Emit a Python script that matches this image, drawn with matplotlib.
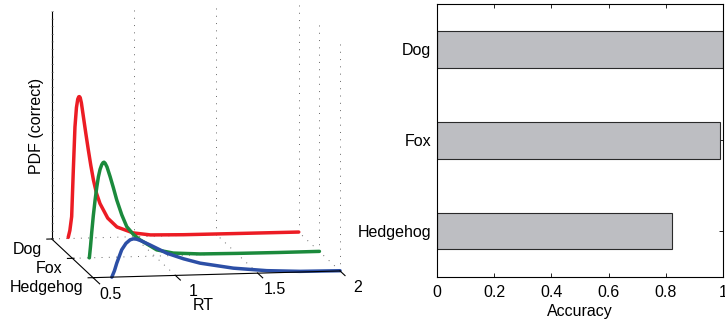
import matplotlib
matplotlib.use('Agg')
import matplotlib.pyplot as plt
import numpy as np

plt.rcParams['font.family'] = ['Liberation Sans', 'DejaVu Sans']

# categories (Dog at the back of the 3D plot, Hedgehog at the front)
animals = ['Dog', 'Fox', 'Hedgehog']
animal_pos = [3, 2, 1]
colors = ['#ec1c24', '#1b8a3c', '#2c4fa6']

# RT densities of correct responses
dog_rt = [0.60, 0.61, 0.621, 0.631, 0.641, 0.65, 0.658, 0.664, 0.668, 0.673,
          0.68, 0.692, 0.707, 0.722, 0.737, 0.753, 0.772, 0.793, 0.84, 0.896,
          0.994, 1.1, 1.3, 1.6, 2.0]
dog_pdf = [0.05, 0.35, 0.96, 3.0, 4.9, 5.75, 6.12, 6.22, 6.23, 6.18,
           5.95, 5.35, 4.6, 3.88, 3.2, 2.55, 1.95, 1.5, 0.85, 0.45,
           0.17, 0.06, 0.03, 0.02, 0.01]

fox_rt = [0.603, 0.61, 0.617, 0.627, 0.638, 0.648, 0.658, 0.668, 0.678, 0.686,
          0.692, 0.699, 0.71, 0.729, 0.749, 0.769, 0.8, 0.83, 0.87, 0.911,
          1.012, 1.113, 1.275, 1.5, 1.75, 2.0]
fox_pdf = [0.0, 0.5, 1.09, 1.85, 2.55, 3.1, 3.56, 3.88, 4.08, 4.17,
           4.19, 4.14, 3.98, 3.55, 3.05, 2.52, 1.85, 1.33, 0.98, 0.73,
           0.27, 0.11, 0.04, 0.02, 0.01, 0.01]

hedgehog_rt = [0.614, 0.63, 0.644, 0.66, 0.674, 0.7, 0.725, 0.745, 0.765,
               0.79, 0.846, 0.947, 1.05, 1.15, 1.352, 1.555, 1.757, 2.0]
hedgehog_pdf = [0.0, 0.28, 0.61, 0.92, 1.19, 1.47, 1.62, 1.66, 1.64,
                1.57, 1.37, 0.99, 0.72, 0.51, 0.25, 0.10, 0.03, 0.01]

rt_ticks = [0.5, 1, 1.5, 2]
rt_ticklabels = ['0.5', '1', '1.5', '2']

# accuracy per animal
accuracy = [1.0, 0.99, 0.82]
acc_ticks = [0, 0.2, 0.4, 0.6, 0.8, 1]
acc_ticklabels = ['0', '0.2', '0.4', '0.6', '0.8', '1']

FW, FH = 725, 324
fig = plt.figure(figsize=(FW / 100, FH / 100), dpi=100)

# ---- left: 3D plot of the densities ----
W = 326.2
ax = fig.add_axes([28.4 / FW, 15.2 / FH, W / FW, W / FH], projection='3d',
                  proj_type='ortho', computed_zorder=False)
ax.set_box_aspect((250.55, 246.14, 230.25), zoom=1.25)
ax.view_init(elev=9.17, azim=-99.66)
ax.set_axis_off()
ax.patch.set_alpha(0)

xmin, xmax = 0.5, 2
ymin, ymax = 1, 3
zmin, zmax = 0, 10

# dotted grid
gkw = dict(color='#666666', lw=0.7, ls=(0, (1, 6.5)), zorder=1)
for x in rt_ticks[1:]:
    ax.plot([x, x], [ymax, ymax], [zmin, zmax], **gkw)
    ax.plot([x, x], [ymin, ymax], [zmin, zmin], **gkw)
for y in animal_pos[1:]:
    ax.plot([xmax, xmax], [y, y], [zmin, zmax], **gkw)
for y in animal_pos[:2]:
    ax.plot([xmin, xmax], [y, y], [zmin, zmin], **gkw)

# curves
all_rt = [dog_rt, fox_rt, hedgehog_rt]
all_pdf = [dog_pdf, fox_pdf, hedgehog_pdf]
for i in range(3):
    ax.plot(all_rt[i], [animal_pos[i]] * len(all_rt[i]), all_pdf[i],
            color=colors[i], lw=2.5, solid_capstyle='round',
            solid_joinstyle='round', zorder=3 + i)

# axis lines
akw = dict(color='black', lw=0.8, zorder=10)
ax.plot([xmin, xmin], [ymax, ymax], [zmin, zmax], **akw)
ax.plot([xmin, xmin], [ymax, 0.68], [zmin, zmin], **akw)
ax.plot([xmin, xmax], [ymin, ymin], [zmin, zmin], **akw)
for x in rt_ticks[1:]:
    ax.plot([x, x], [ymin, 0.76], [zmin, zmin], **akw)
for y in animal_pos:
    ax.plot([0.47, 0.51], [y, y], [zmin, zmin], **akw)
for z in np.linspace(zmin, zmax, 31):
    ax.plot([xmin, xmin + 0.012], [ymax, ymax], [z, z], color='#777777', lw=0.4,
            zorder=10)

# labels
for x, lab in zip(rt_ticks, rt_ticklabels):
    ax.text(x, 0.15, 0, lab, zdir=None, ha='center', va='center', fontsize=11.5)
for y, lab in zip(animal_pos, animals):
    ax.text(xmin - 0.123, y - 0.5, 0, lab, zdir=None, ha='right', va='center',
            fontsize=11.5)
ax.text(0.975, -0.55, 0, 'RT', zdir=None, ha='center', va='center', fontsize=11.5)
ax.text(xmin - 0.091, ymax, 5.0, 'PDF (correct)', zdir='z', ha='center',
        va='center', fontsize=11.5)

ax.set_xlim(xmin, xmax)
ax.set_ylim(ymin, ymax)
ax.set_zlim(zmin, zmax)

# ---- right: accuracy bars ----
ax2 = fig.add_axes([436.7 / FW, 47.3 / FH, 286.6 / FW, 272.7 / FH])
ax2.barh(animal_pos, accuracy, height=0.4, color='#bdbec2', edgecolor='#2a2a2a',
         linewidth=0.8, zorder=2)
ax2.set_xlim(0, 1)
ax2.set_ylim(0.5, 3.5)
ax2.set_yticks(animal_pos)
ax2.set_yticklabels(animals)
ax2.set_xticks(acc_ticks)
ax2.set_xticklabels(acc_ticklabels)
ax2.tick_params(direction='in', top=True, right=True, length=3, width=0.6,
                labelsize=11.5)
ax2.tick_params(axis='x', pad=6)
ax2.tick_params(axis='y', pad=4)
ax2.set_xlabel('Accuracy', fontsize=11.5, labelpad=3)
for s in ax2.spines.values():
    s.set_linewidth(0.8)

fig.savefig('out.png', dpi=100)
